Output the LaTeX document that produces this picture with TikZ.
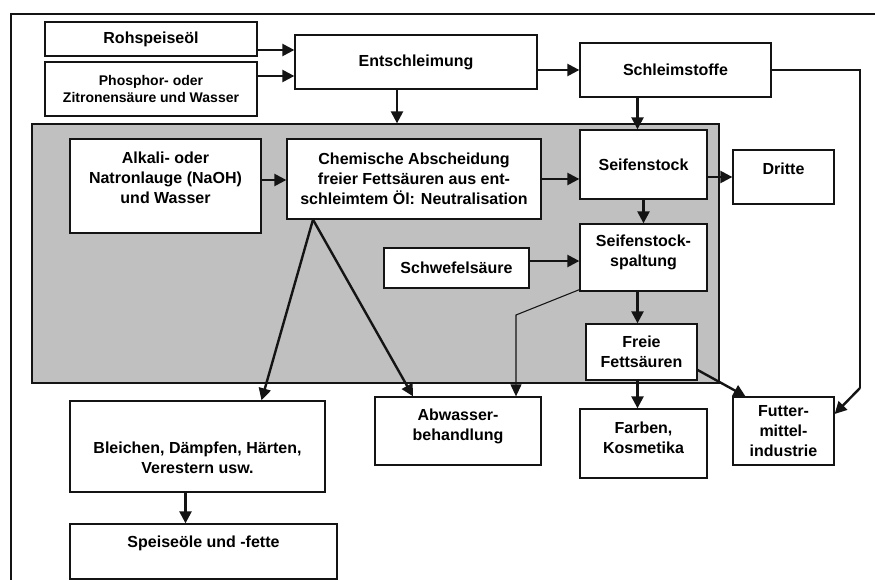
\documentclass[tikz,border=0pt]{standalone}
\usepackage{fontspec}
\setmainfont{Liberation Sans}
\usetikzlibrary{arrows.meta}

\definecolor{flowcolor0000}{RGB}{192,192,192}
\definecolor{flowcolor0001}{RGB}{20,20,20}

\begin{document}
\begin{tikzpicture}[x=1pt,y=-1pt
,boxstyle/.style={draw=flowcolor0001,fill=white,line width=1.3pt,inner sep=0pt,align=center,font=\bfseries\fontsize{16}{20}\selectfont}
,arrstyle/.style={draw=flowcolor0001,line width=2.4pt,-{Triangle[length=12pt,width=12pt]}}
,thinstyle/.style={draw=flowcolor0001,line width=1.1pt}
]
\useasboundingbox (0,0) rectangle (875,580);
\draw[color=flowcolor0001,line width=2pt] (11,580) -- (11,14) -- (875,14);
% grey panel for the neutralisation
\node[draw=flowcolor0001,fill=flowcolor0000,line width=1.3pt,minimum width=687pt,minimum height=259pt,inner sep=0pt] (neutr) at (375.5,253.5) {};
\node[boxstyle,minimum width=212pt,minimum height=34pt] (rohoel) at (151,39) {Rohspeiseöl};
\node[boxstyle,minimum width=212pt,minimum height=54pt,font=\bfseries\fontsize{14}{17}\selectfont] (phosphor) at (151,89) {Phosphor- oder\\Zitronensäure und Wasser};
\node[boxstyle,minimum width=242pt,minimum height=54pt] (entschl) at (416,62) {Entschleimung};
\node[boxstyle,minimum width=191pt,minimum height=54pt] (schleim) at (675.5,70) {Schleimstoffe};
\node[boxstyle,minimum width=191pt,minimum height=94pt,text depth=16pt] (alkali) at (165.5,186) {Alkali- oder\\Natronlauge (NaOH)\\und Wasser};
\node[boxstyle,minimum width=254pt,minimum height=80pt] (chemie) at (414,179) {Chemische Abscheidung\\freier Fettsäuren aus ent-\\schleimtem Öl: Neutralisation};
\node[boxstyle,minimum width=127pt,minimum height=69pt] (seifen) at (643.5,164.5) {Seifenstock};
\node[boxstyle,minimum width=101pt,minimum height=54pt,text depth=16pt] (dritte) at (783.5,177) {Dritte};
\node[boxstyle,minimum width=145pt,minimum height=40pt] (schwefel) at (456.5,268) {Schwefelsäure};
\node[boxstyle,minimum width=127pt,minimum height=67pt,text depth=14pt] (spaltung) at (643.5,257.5) {Seifenstock-\\spaltung};
\node[boxstyle,minimum width=111pt,minimum height=56pt] (freie) at (641.5,352) {Freie\\Fettsäuren};
\node[boxstyle,minimum width=166pt,minimum height=68pt,text depth=12pt] (abwasser) at (458,431) {Abwasser-\\behandlung};
\node[boxstyle,minimum width=127pt,minimum height=69pt,text depth=12pt] (farben) at (643.5,443.5) {Farben,\\Kosmetika};
\node[boxstyle,minimum width=101pt,minimum height=68pt] (futter) at (783.5,431) {Futter-\\mittel-\\industrie};
\node[boxstyle,minimum width=255pt,minimum height=91pt,text height=54pt] (bleichen) at (197.5,446.5) {Bleichen, Dämpfen, Härten,\\Verestern usw.};
\node[boxstyle,minimum width=267pt,minimum height=55pt,text depth=19pt] (speise) at (203.5,551.5) {Speiseöle und -fette};
% connectors
\coordinate (schleimknick) at (860,388);
\coordinate (abwknick) at (516,315);
\coordinate (chemiefuss) at ([xshift=-101pt]chemie.south);
\draw[arrstyle] ([yshift=-11pt]rohoel.east) -- ([yshift=-11pt]rohoel.east -| entschl.west);
\draw[arrstyle] ([yshift=13pt]phosphor.east) -- ([yshift=13pt]phosphor.east -| entschl.west);
\draw[arrstyle] ([xshift=-19pt]entschl.south) -- ([xshift=-19pt]entschl.south |- neutr.north);
\draw[arrstyle] ([yshift=-8pt]entschl.east) -- ([yshift=-8pt]entschl.east -| schleim.west);
\draw[arrstyle] ([xshift=-38pt]schleim.south) -- ([xshift=-38pt]schleim.south |- seifen.north);
\draw[thinstyle] (schleim.east) -| (schleimknick);
\draw[arrstyle] (schleimknick) -- ([yshift=17pt]futter.east);
\draw[arrstyle] ([yshift=6pt]alkali.east) -- ([yshift=6pt]alkali.east -| chemie.west);
\draw[arrstyle] (chemie.east) -- (chemie.east -| seifen.west);
\draw[arrstyle] (seifen.east |- dritte.west) -- (dritte.west);
\draw[arrstyle] (seifen.south) -- (spaltung.north);
\draw[arrstyle] ([yshift=7pt]schwefel.east) -- ([yshift=7pt]schwefel.east -| spaltung.west);
\draw[arrstyle] ([xshift=-6pt]spaltung.south) -- ([xshift=-6pt]spaltung.south |- freie.north);
\draw[thinstyle,-{Triangle[length=12pt,width=11pt]}] ([yshift=2pt]spaltung.south west) -- (abwknick) -- (abwknick |- abwasser.north);
\draw[arrstyle] (chemiefuss) -- ([xshift=64pt]bleichen.north);
\draw[arrstyle] (chemiefuss) -- ([xshift=-45pt]abwasser.north);
\draw[arrstyle] ([xshift=-4pt]freie.south) -- ([xshift=-4pt]freie.south |- farben.north);
\draw[arrstyle] ([yshift=-18pt]freie.east) -- ([xshift=-38pt]futter.north);
\draw[arrstyle] ([xshift=-12pt]bleichen.south) -- ([xshift=-12pt]bleichen.south |- speise.north);
\end{tikzpicture}
\end{document}
